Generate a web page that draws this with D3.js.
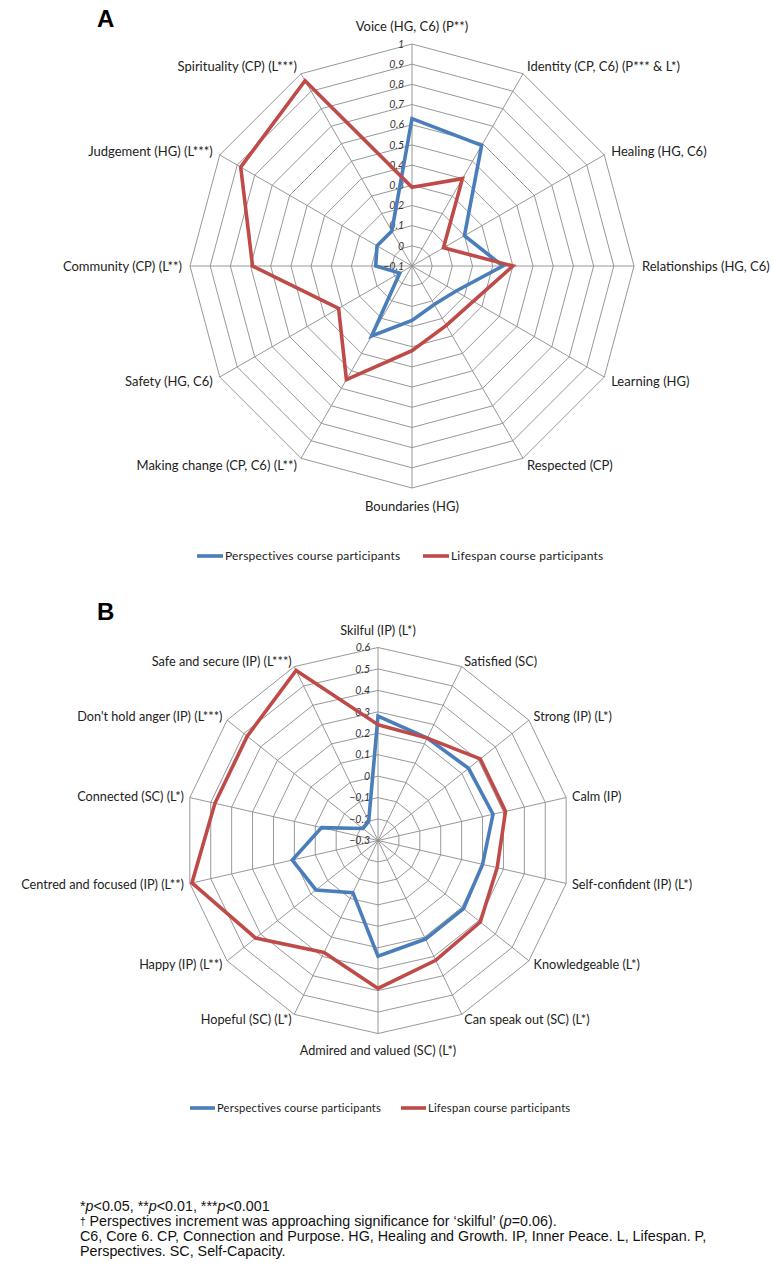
<!DOCTYPE html>
<html lang="en">
  <head>
    <meta charset="UTF-8" />
    <title>radar A/B</title>
    <script src="https://d3js.org/d3.v7.min.js"></script>
    <style>
      body { margin: 0; background: #fff; }
      .axis-label { font-family: Lato, 'Open Sans', sans-serif; fill: #222; }
      .tick-label { font-family: Lato, 'Open Sans', sans-serif; font-style: italic; fill: #333; }
      .legend { font-family: Lato, 'Open Sans', sans-serif; fill: #222; letter-spacing: 0.2px; }
      .note { font-family: 'Liberation Sans', Arial, sans-serif; font-size: 14.3px; fill: #111; }
    </style>
  </head>
  <body>
    <svg width="773" height="1274"></svg>
  </body>

  <script>
    // ---- 数据: chart A ----
    var axesA = [
      'Voice (HG, C6) (P**)', 'Identity (CP, C6) (P*** & L*)', 'Healing (HG, C6)',
      'Relationships (HG, C6)', 'Learning (HG)', 'Respected (CP)', 'Boundaries (HG)',
      'Making change (CP, C6) (L**)', 'Safety (HG, C6)', 'Community (CP) (L**)',
      'Judgement (HG) (L***)', 'Spirituality (CP) (L***)'
    ]
    var perspectivesA = [0.63, 0.59, 0.20, 0.35, 0.15, 0.12, 0.17, 0.30, -0.03, 0.08, 0.10, 0.10]
    var lifespanA = [0.29, 0.40, 0.08, 0.40, 0.25, 0.24, 0.32, 0.55, 0.32, 0.69, 0.88, 0.96]
    var ticksA = [-0.1, 0, 0.1, 0.2, 0.3, 0.4, 0.5, 0.6, 0.7, 0.8, 0.9, 1]

    // ---- 数据: chart B ----
    var axesB = [
      'Skilful (IP) (L*)', 'Satisfied (SC)', 'Strong (IP) (L*)', 'Calm (IP)',
      'Self-confident (IP) (L*)', 'Knowledgeable (L*)', 'Can speak out (SC) (L*)',
      'Admired and valued (SC) (L*)', 'Hopeful (SC) (L*)', 'Happy (IP) (L**)',
      'Centred and focused (IP) (L**)', 'Connected (SC) (L*)',
      "Don't hold anger (IP) (L***)", 'Safe and secure (IP) (L***)'
    ]
    var perspectivesB = [0.28, 0.23, 0.24, 0.25, 0.20, 0.21, 0.21, 0.24, -0.03, 0.07, 0.11, -0.03, -0.21, -0.20]
    var lifespanB = [0.24, 0.23, 0.31, 0.31, 0.27, 0.31, 0.32, 0.39, 0.28, 0.43, 0.59, 0.48, 0.48, 0.58]
    var ticksB = [-0.3, -0.2, -0.1, 0, 0.1, 0.2, 0.3, 0.4, 0.5, 0.6]

    var seriesNames = ['Perspectives course participants', 'Lifespan course participants']
    var seriesColors = ['#4a7ebb', '#be4b48']

    var svg = d3.select('svg')
    svg.append('rect').attr('width', 773).attr('height', 1274).attr('fill', '#fff')

    // 画雷达图
    function radar(opt) {
      var g = svg.append('g').attr('transform', 'translate(' + opt.cx + ',' + opt.cy + ')')
      var n = opt.axes.length
      var r = d3.scaleLinear().domain([opt.ticks[0], opt.ticks[opt.ticks.length - 1]]).range([0, opt.R])
      var angle = function (i) { return (i * 2 * Math.PI) / n }
      var pt = function (i, v) {
        return [r(v) * Math.sin(angle(i)), -r(v) * Math.cos(angle(i))]
      }

      // 网格
      g.append('g')
        .selectAll('path')
        .data(opt.ticks.slice(1))
        .enter()
        .append('path')
        .attr('d', function (t) {
          return d3.line()(d3.range(n).map(function (i) { return pt(i, t) })) + 'Z'
        })
        .attr('fill', 'none')
        .attr('stroke', '#8c8c8c')
        .attr('stroke-width', 0.9)

      g.append('g')
        .selectAll('line')
        .data(d3.range(n))
        .enter()
        .append('line')
        .attr('x1', 0).attr('y1', 0)
        .attr('x2', function (i) { return pt(i, opt.ticks[opt.ticks.length - 1])[0] })
        .attr('y2', function (i) { return pt(i, opt.ticks[opt.ticks.length - 1])[1] })
        .attr('stroke', '#8c8c8c')
        .attr('stroke-width', 0.9)

      // 刻度文字
      g.append('g')
        .selectAll('text')
        .data(opt.ticks)
        .enter()
        .append('text')
        .attr('class', 'tick-label')
        .attr('x', -opt.tickGap)
        .attr('y', function (t) { return -r(t) })
        .attr('dy', '0.35em')
        .attr('text-anchor', 'end')
        .style('font-size', opt.tickSize + 'px')
        .text(function (t) { return d3.format('')(+t.toFixed(1)) })

      // 系列
      var lists = [opt.blue, opt.red]
      lists.forEach(function (vals, k) {
        g.append('path')
          .attr('d', d3.line()(vals.map(function (v, i) { return pt(i, v) })) + 'Z')
          .attr('fill', 'none')
          .attr('stroke', seriesColors[k])
          .attr('stroke-width', 3.6)
          .attr('stroke-linejoin', 'miter')
      })

      // 轴标签
      g.append('g')
        .selectAll('text')
        .data(opt.axes)
        .enter()
        .append('text')
        .attr('class', 'axis-label')
        .style('font-size', opt.labelSize + 'px')
        .attr('x', function (d, i) { return (opt.R + opt.labelPad) * Math.sin(angle(i)) })
        .attr('y', function (d, i) {
          var s = Math.sin(angle(i)), c = Math.cos(angle(i))
          var y = -(opt.R + opt.labelPad) * c
          if (Math.abs(s) < 0.01) y -= c * opt.endPad
          return y
        })
        .attr('dy', '0.35em')
        .attr('text-anchor', function (d, i) {
          var s = Math.sin(angle(i))
          return s > 0.01 ? 'start' : s < -0.01 ? 'end' : 'middle'
        })
        .text(function (d) { return d })

      // 图例
      var lg = svg.append('g').attr('transform', 'translate(0,' + opt.legendY + ')')
      seriesNames.forEach(function (name, k) {
        var x0 = opt.legendX[k]
        lg.append('line')
          .attr('x1', x0).attr('x2', x0 + opt.legendLine)
          .attr('y1', 0).attr('y2', 0)
          .attr('stroke', seriesColors[k])
          .attr('stroke-width', 3.6)
        lg.append('text')
          .attr('class', 'legend')
          .attr('x', x0 + opt.legendLine + 2)
          .attr('dy', '0.35em')
          .style('font-size', opt.legendSize + 'px')
          .text(name)
      })

      // 面板字母
      svg.append('text')
        .attr('x', 97).attr('y', opt.letterY)
        .style('font-family', "'Liberation Sans', Arial, sans-serif")
        .style('font-weight', 'bold')
        .style('font-size', '24px')
        .text(opt.letter)
    }

    radar({
      cx: 412, cy: 266, R: 222, axes: axesA, blue: perspectivesA, red: lifespanA, ticks: ticksA,
      tickGap: 8, tickSize: 10.5, labelSize: 13, labelPad: 8, endPad: 10,
      legendY: 556, legendX: [197, 423], legendLine: 26, legendSize: 12,
      letter: 'A', letterY: 27
    })

    radar({
      cx: 378, cy: 840.5, R: 193, axes: axesB, blue: perspectivesB, red: lifespanB, ticks: ticksB,
      tickGap: 8, tickSize: 10.5, labelSize: 12.7, labelPad: 6, endPad: 11,
      legendY: 1108, legendX: [190, 401], legendLine: 25, legendSize: 11.2,
      letter: 'B', letterY: 620
    })

    // 脚注
    var note = svg.append('g').attr('class', 'note')
    var t1 = note.append('text').attr('x', 80).attr('y', 1211)
    t1.append('tspan').text('*')
    t1.append('tspan').style('font-style', 'italic').text('p')
    t1.append('tspan').text('<0.05, **')
    t1.append('tspan').style('font-style', 'italic').text('p')
    t1.append('tspan').text('<0.01, ***')
    t1.append('tspan').style('font-style', 'italic').text('p')
    t1.append('tspan').text('<0.001')

    var t2 = note.append('text').attr('x', 80).attr('y', 1226)
    t2.append('tspan').style('font-size', '10px').attr('dy', -1).text('†')
    t2.append('tspan').attr('dy', 1).text(' Perspectives increment was approaching significance for \u2018skilful\u2019 (')
    t2.append('tspan').style('font-style', 'italic').text('p')
    t2.append('tspan').text('=0.06).')

    note.append('text').attr('x', 80).attr('y', 1241)
      .text('C6, Core 6. CP, Connection and Purpose. HG, Healing and Growth. IP, Inner Peace. L, Lifespan. P,')
    note.append('text').attr('x', 80).attr('y', 1256)
      .text('Perspectives. SC, Self-Capacity.')
  </script>
</html>
